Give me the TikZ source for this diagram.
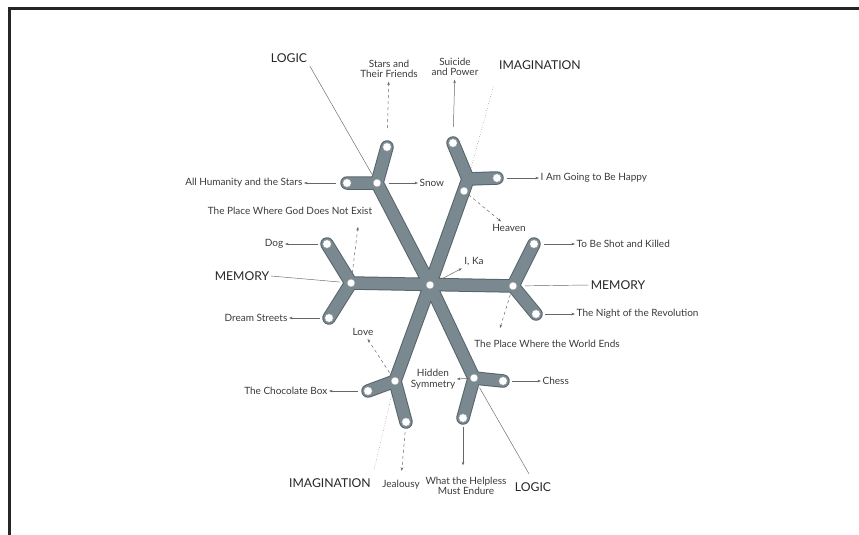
\documentclass[tikz,border=0pt]{standalone}
\usepackage{fontspec}
\setmainfont{Lato}
\usetikzlibrary{arrows.meta}
\definecolor{flakeedge}{HTML}{56636B}
\definecolor{flakefill}{HTML}{7A8890}
\definecolor{inkgray}{HTML}{3A3A3A}
\definecolor{linegray}{HTML}{666666}
\begin{document}
\begin{tikzpicture}[x=1pt,y=-1pt,>={Stealth[length=3.5pt,width=2.6pt]},
  lab/.style={font=\fontsize{10}{10.5}\selectfont,color=inkgray,inner sep=1.5pt,align=center},
  head/.style={font=\fontsize{12.2}{13}\selectfont,color=black!85,inner sep=1.5pt},
  arr/.style={->,linegray,line width=0.5pt},
  guide/.style={linegray,line width=0.45pt},
  baredge/.style={flakeedge,line width=13.5pt,line cap=round,line join=round},
  barfill/.style={flakefill,line width=11.5pt,line cap=round,line join=round}]
\useasboundingbox (0,0) rectangle (859,535);
% frame
\draw[line width=3pt,black!85] (9,535) -- (9,8.5) -- (859,8.5);
% snowflake points
\coordinate (c) at (430,285);
\coordinate (hul) at (377,183);
\coordinate (hur) at (464,191);
\coordinate (jur) at (468,179);
\coordinate (hl) at (351,283);
\coordinate (hr) at (513,286);
\coordinate (hll) at (395,381);
\coordinate (hlr) at (474,378);
\coordinate (tul1) at (387,147);
\coordinate (tul2) at (347,183);
\coordinate (tur1) at (453,143);
\coordinate (tur2) at (497,178);
\coordinate (tl1) at (327,244);
\coordinate (tl2) at (329,318);
\coordinate (tr1) at (534,244);
\coordinate (tr2) at (536,314);
\coordinate (tll1) at (368,391);
\coordinate (tll2) at (406,422);
\coordinate (tlr1) at (503,381);
\coordinate (tlr2) at (463,418);
% bars
\foreach \s in {baredge,barfill}{
  \draw[\s] (c) -- (hul) -- (tul1) (hul) -- (tul2)
    (c) -- (jur) -- (tur1) (jur) -- (tur2)
    (tl1) -- (hl) -- (tl2) (hl) -- (hr)
    (tr1) -- (hr) -- (tr2)
    (c) -- (hll) -- (tll2) (hll) -- (tll1)
    (c) -- (hlr) -- (tlr2) (hlr) -- (tlr1);
}
% holes
\foreach \p in {c,hul,hur,hl,hr,hll,hlr}{\draw[fill=white,draw=flakeedge!60,line width=0.4pt] (\p) circle (3.9pt);}
\foreach \p in {tul1,tul2,tur1,tur2,tl1,tl2,tr1,tr2,tll1,tll2,tlr1,tlr2}{\draw[fill=white,draw=flakeedge!60,line width=0.4pt] (\p) circle (4.2pt);}
% labels
\node[head] (logicA) at (289,58) {LOGIC};
\node[lab] (stars) at (389,69) {Stars and\\Their Friends};
\node[lab] (suicide) at (455,67) {Suicide\\and Power};
\node[head] (imagA) at (540,65) {IMAGINATION};
\node[lab,anchor=west] (happy) at (539,178) {I Am Going to Be Happy};
\node[lab,anchor=west] (snow) at (418,183) {Snow};
\node[lab,anchor=east] (humanity) at (304,183) {All Humanity and the Stars};
\node[lab] (godplace) at (290,211) {The Place Where God Does Not Exist};
\node[lab,anchor=east] (dog) at (285,244) {Dog};
\node[head] (memoryA) at (242,276) {MEMORY};
\node[lab,anchor=east] (dream) at (289,318) {Dream Streets};
\node[lab] (love) at (363,332) {Love};
\node[lab,anchor=east] (choc) at (329,391) {The Chocolate Box};
\node[head] (imagB) at (330,483) {IMAGINATION};
\node[lab] (jealousy) at (401,485) {Jealousy};
\node[lab] (hidden) at (433,379) {Hidden\\Symmetry};
\node[lab,anchor=west] (chess) at (541,381) {Chess};
\node[lab] (helpless) at (466,486) {What the Helpless\\Must Endure};
\node[head] (logicB) at (533,487) {LOGIC};
\node[lab] (worldend) at (547,344) {The Place Where the World Ends};
\node[lab,anchor=west] (night) at (575,314) {The Night of the Revolution};
\node[head] (memoryB) at (618,285) {MEMORY};
\node[lab,anchor=west] (shot) at (575,244) {To Be Shot and Killed};
\node[lab] (heaven) at (509,228) {Heaven};
\node[lab] (ika) at (474,262) {I, Ka};
\coordinate (godtip) at (358,227);
\coordinate (worldtip) at (500,328);
% guide lines
\draw[guide,shorten <=10pt,shorten >=2pt] (hul) -- (logicA.south east);
\draw[guide,dotted,shorten <=2pt,shorten >=15pt] (jur) -- (imagA.south west);
\draw[guide,shorten <=11pt] (hl) -- (memoryA.east);
\draw[guide,shorten <=12pt] (hr) -- (memoryB.west);
\draw[guide,dotted,shorten <=14pt,shorten >=8pt] (hll) -- (imagB.north east);
\draw[guide,shorten <=11pt,shorten >=8pt] (hlr) -- (logicB.north);
% arrows
\draw[arr,dashed,shorten <=19pt,shorten >=2pt] (tul1) -- (stars);
\draw[arr,shorten <=16pt,shorten >=2pt] (tur1) -- (suicide);
\draw[arr,shorten <=10pt] (tur2) -- (happy.west);
\draw[arr,shorten <=12pt] (hul) -- (snow.west);
\draw[arr,shorten <=11pt] (tul2) -- (humanity.east);
\draw[arr,dashed,shorten <=10pt] (hl) -- (godtip);
\draw[arr,shorten <=9pt] (tl1) -- (dog.east);
\draw[arr,shorten <=9pt] (tl2) -- (dream.east);
\draw[arr,dashed,shorten <=10pt,shorten >=2pt] (hll) -- (love);
\draw[arr,shorten <=10pt] (tll1) -- (choc.east);
\draw[arr,dashed,shorten <=10pt,shorten >=8pt] (tll2) -- (jealousy.north);
\draw[arr,shorten <=5pt] (hlr) -- (hidden.east);
\draw[arr,shorten <=9pt] (tlr1) -- (chess.west);
\draw[arr,shorten <=9pt,shorten >=10pt] (tlr2) -- (helpless.north -| tlr2);
\draw[arr,dashed,shorten <=9pt] (hr) -- (worldtip);
\draw[arr,shorten <=9pt] (tr2) -- (night.west);
\draw[arr,shorten <=10pt] (tr1) -- (shot.west);
\draw[arr,dashed,shorten <=6pt,shorten >=2pt] (hur) -- (heaven);
\draw[arr,shorten <=14pt,shorten >=1pt] (c) -- (ika);
\end{tikzpicture}
\end{document}
